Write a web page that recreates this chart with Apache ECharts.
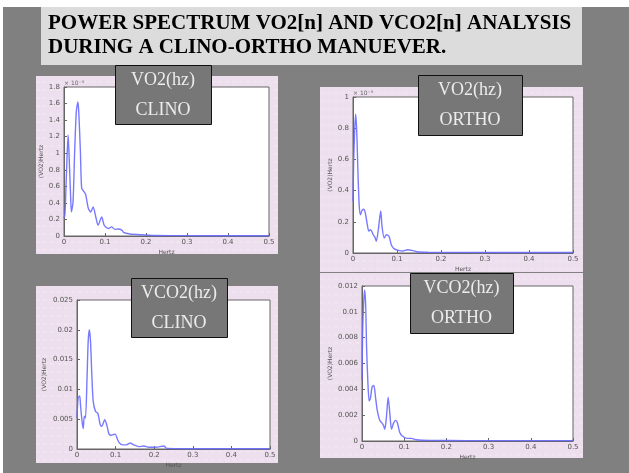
<!DOCTYPE html>
<html>
<head>
<meta charset="utf-8">
<script src="https://cdn.jsdelivr.net/npm/echarts@6/dist/echarts.min.js"></script>
<style>
html,body{margin:0;padding:0;background:#fff;}
#c{width:629px;height:473px;}
</style>
</head>
<body>
<div id="c"></div>
<script>
// ---- data ----
var titleLines = ['POWER SPECTRUM VO2[n] AND VCO2[n] ANALYSIS', 'DURING A CLINO-ORTHO MANUEVER.'];
var panelLabels = [['VO2(hz)', 'CLINO'], ['VO2(hz)', 'ORTHO'], ['VCO2(hz)', 'CLINO'], ['VCO2(hz)', 'ORTHO']];
var xTicks = [0, 0.1, 0.2, 0.3, 0.4, 0.5];
var yTicks1 = [0, 0.2, 0.4, 0.6, 0.8, 1, 1.2, 1.4, 1.6, 1.8];
var yTicks2 = [0, 0.2, 0.4, 0.6, 0.8, 1];
var yTicks3 = [0, 0.005, 0.01, 0.015, 0.02, 0.025];
var yTicks4 = [0, 0.002, 0.004, 0.006, 0.008, 0.01, 0.012];

// VO2 CLINO (x 10^-3)
var f1 = [0, 0.002, 0.004, 0.007, 0.010, 0.012, 0.016, 0.018, 0.022, 0.026, 0.030, 0.034, 0.036, 0.040, 0.043, 0.048, 0.053, 0.059, 0.065, 0.071, 0.078, 0.083, 0.092, 0.098, 0.108, 0.116, 0.124, 0.132, 0.141, 0.146, 0.161, 0.186, 0.22, 0.3, 0.4, 0.5];
var v1 = [0.22, 0.25, 0.46, 0.90, 1.22, 1.02, 0.50, 0.29, 0.41, 1.02, 1.50, 1.62, 1.50, 1.02, 0.58, 0.54, 0.50, 0.34, 0.29, 0.35, 0.22, 0.13, 0.23, 0.13, 0.09, 0.11, 0.08, 0.085, 0.07, 0.04, 0.025, 0.015, 0.006, 0.004, 0.003, 0.003];
// VO2 ORTHO (x 10^-3)
var f2 = [0, 0.0015, 0.004, 0.006, 0.0085, 0.011, 0.014, 0.017, 0.020, 0.024, 0.028, 0.032, 0.036, 0.040, 0.046, 0.050, 0.053, 0.058, 0.063, 0.066, 0.071, 0.076, 0.082, 0.087, 0.093, 0.103, 0.113, 0.124, 0.134, 0.145, 0.17, 0.25, 0.35, 0.5];
var v2 = [0.33, 0.59, 0.80, 0.89, 0.78, 0.54, 0.31, 0.245, 0.27, 0.28, 0.256, 0.19, 0.14, 0.15, 0.117, 0.10, 0.075, 0.16, 0.27, 0.17, 0.096, 0.117, 0.106, 0.053, 0.028, 0.017, 0.013, 0.021, 0.017, 0.008, 0.005, 0.004, 0.003, 0.003];
// VCO2 CLINO
var f3 = [0, 0.003, 0.007, 0.009, 0.013, 0.016, 0.019, 0.022, 0.026, 0.029, 0.032, 0.035, 0.038, 0.042, 0.048, 0.054, 0.060, 0.064, 0.072, 0.078, 0.083, 0.089, 0.094, 0.099, 0.105, 0.110, 0.118, 0.128, 0.138, 0.147, 0.160, 0.173, 0.186, 0.204, 0.225, 0.233, 0.3, 0.4, 0.5];
var v3 = [0.0052, 0.0086, 0.0089, 0.0074, 0.0047, 0.0034, 0.0055, 0.0052, 0.0119, 0.0181, 0.0200, 0.0181, 0.0131, 0.0080, 0.0063, 0.0060, 0.0041, 0.0038, 0.0049, 0.0038, 0.0025, 0.0023, 0.0024, 0.0025, 0.0016, 0.0010, 0.0007, 0.0007, 0.0010, 0.0007, 0.0004, 0.0005, 0.0003, 0.0003, 0.0005, 0.0001, 0.00005, 0.00004, 0.00004];
// VCO2 ORTHO
var f4 = [0, 0.0015, 0.004, 0.006, 0.0085, 0.011, 0.014, 0.017, 0.020, 0.024, 0.028, 0.032, 0.036, 0.042, 0.047, 0.051, 0.054, 0.058, 0.062, 0.066, 0.070, 0.075, 0.080, 0.084, 0.089, 0.095, 0.106, 0.117, 0.129, 0.16, 0.25, 0.35, 0.5];
var v4 = [0.0047, 0.0084, 0.0107, 0.0117, 0.0107, 0.0071, 0.0045, 0.0031, 0.0033, 0.0042, 0.0043, 0.0034, 0.0024, 0.0016, 0.0014, 0.0012, 0.0009, 0.0019, 0.0034, 0.0021, 0.0009, 0.0014, 0.0016, 0.0014, 0.0007, 0.0004, 0.0002, 0.0002, 0.0001, 0.00005, 0.00003, 0.00003, 0.00003];

function zip(f, v) { return f.map(function (x, i) { return [x, v[i]]; }); }
var seriesData = [zip(f1, v1), zip(f2, v2), zip(f3, v3), zip(f4, v4)];
var yTicksAll = [yTicks1, yTicks2, yTicks3, yTicks4];

// ---- layout ----
var panels = [
  {x: 36, y: 76, w: 242, h: 178},
  {x: 320, y: 87, w: 263, h: 185},
  {x: 36, y: 286, w: 242, h: 177},
  {x: 320, y: 273, w: 263, h: 185}
];
var grids = [
  {left: 64, top: 87, width: 205, height: 149},
  {left: 353, top: 97, width: 220, height: 156},
  {left: 77, top: 300, width: 193, height: 149},
  {left: 362, top: 286, width: 211, height: 155}
];
var boxes = [
  {x: 115, y: 65, w: 96, h: 59},
  {x: 418, y: 75, w: 104, h: 60},
  {x: 131, y: 278, w: 96, h: 59},
  {x: 410, y: 273, w: 103, h: 60}
];

var graphic = [];
graphic.push({type: 'rect', z: -20, shape: {x: 3, y: 7, width: 626, height: 466}, style: {fill: '#808080'}, silent: true});
graphic.push({type: 'rect', z: -19, shape: {x: 41, y: 7, width: 541, height: 58}, style: {fill: '#dcdcdc'}, silent: true});
titleLines.forEach(function (t, i) {
  graphic.push({type: 'text', z: -18, left: 48, top: 13 + i * 24,
    style: {text: t, fill: '#000', font: 'bold 21px "Liberation Serif", "Times New Roman", serif'}});
});
panels.forEach(function (p) {
  graphic.push({type: 'rect', z: -15, shape: {x: p.x, y: p.y, width: p.w, height: p.h}, style: {fill: '#eddfed'}, silent: true});
});
// dashed faint texture lines on panels
panels.forEach(function (p) {
  for (var yy = p.y + 6; yy < p.y + p.h; yy += 8) {
    graphic.push({type: 'line', z: -14, shape: {x1: p.x, y1: yy, x2: p.x + p.w, y2: yy},
      style: {stroke: 'rgba(255,255,255,0.35)', lineWidth: 1, lineDash: [4, 3]}, silent: true});
  }
});
// exponent labels
[[64, 80], [353, 90]].forEach(function (pt) {
  graphic.push({type: 'text', z: 5, left: pt[0], top: pt[1],
    style: {text: '× 10⁻³', fill: '#666', font: '6px "DejaVu Sans", sans-serif'}});
});
boxes.forEach(function (b, i) {
  graphic.push({type: 'rect', z: 200, shape: {x: b.x + 0.5, y: b.y + 0.5, width: b.w, height: b.h},
    style: {fill: '#777777', stroke: '#111', lineWidth: 1}});
  graphic.push({type: 'text', z: 201, x: b.x + b.w / 2, y: b.y + 15,
    style: {text: panelLabels[i][0], fill: '#ececec', font: '18px "Liberation Serif", "Times New Roman", serif', align: 'center', verticalAlign: 'middle'}});
  graphic.push({type: 'text', z: 201, x: b.x + b.w / 2, y: b.y + 45,
    style: {text: panelLabels[i][1], fill: '#ececec', font: '18px "Liberation Serif", "Times New Roman", serif', align: 'center', verticalAlign: 'middle'}});
});

function fmt(v) { return String(+v.toFixed(4)); }
var axisLabelStyle = {color: '#555', fontSize: 7, fontFamily: '"DejaVu Sans", sans-serif'};

var option = {
  animation: false,
  backgroundColor: '#fff',
  graphic: graphic,
  grid: grids.map(function (g) {
    return {left: g.left, top: g.top, width: g.width, height: g.height, show: true,
      backgroundColor: '#fff', borderColor: '#666', borderWidth: 1, containLabel: false};
  }),
  xAxis: grids.map(function (g, i) {
    return {type: 'value', gridIndex: i, min: xTicks[0], max: xTicks[xTicks.length - 1], interval: 0.1,
      name: 'Hertz', nameLocation: 'middle', nameGap: 13,
      nameTextStyle: {color: '#555', fontSize: 6, fontFamily: '"DejaVu Sans", sans-serif'},
      axisLine: {show: true, lineStyle: {color: '#666', width: 1}},
      axisTick: {show: true, inside: true, length: 3, lineStyle: {color: '#666'}},
      axisLabel: Object.assign({margin: 3, formatter: fmt}, axisLabelStyle),
      splitLine: {show: false}};
  }),
  yAxis: grids.map(function (g, i) {
    var t = yTicksAll[i];
    return {type: 'value', gridIndex: i, min: t[0], max: t[t.length - 1], interval: t[1] - t[0],
      name: '(VO2)Hertz', nameLocation: 'middle', nameGap: i < 2 ? 20 : (i === 2 ? 30 : 29), nameRotate: 90,
      nameTextStyle: {color: '#555', fontSize: 6, fontFamily: '"DejaVu Sans", sans-serif'},
      axisLine: {show: true, lineStyle: {color: '#666', width: 1}},
      axisTick: {show: true, inside: true, length: 3, lineStyle: {color: '#666'}},
      axisLabel: Object.assign({margin: 4, formatter: fmt}, axisLabelStyle),
      splitLine: {show: false}};
  }),
  series: seriesData.map(function (d, i) {
    return {type: 'line', xAxisIndex: i, yAxisIndex: i, data: d, showSymbol: false, smooth: 0.25,
      lineStyle: {color: '#6a6aff', width: 1.4, opacity: 0.9}, z: 3};
  })
};

var chart = echarts.init(document.getElementById('c'), null, {renderer: 'canvas'});
chart.setOption(option);
</script>
</body>
</html>
